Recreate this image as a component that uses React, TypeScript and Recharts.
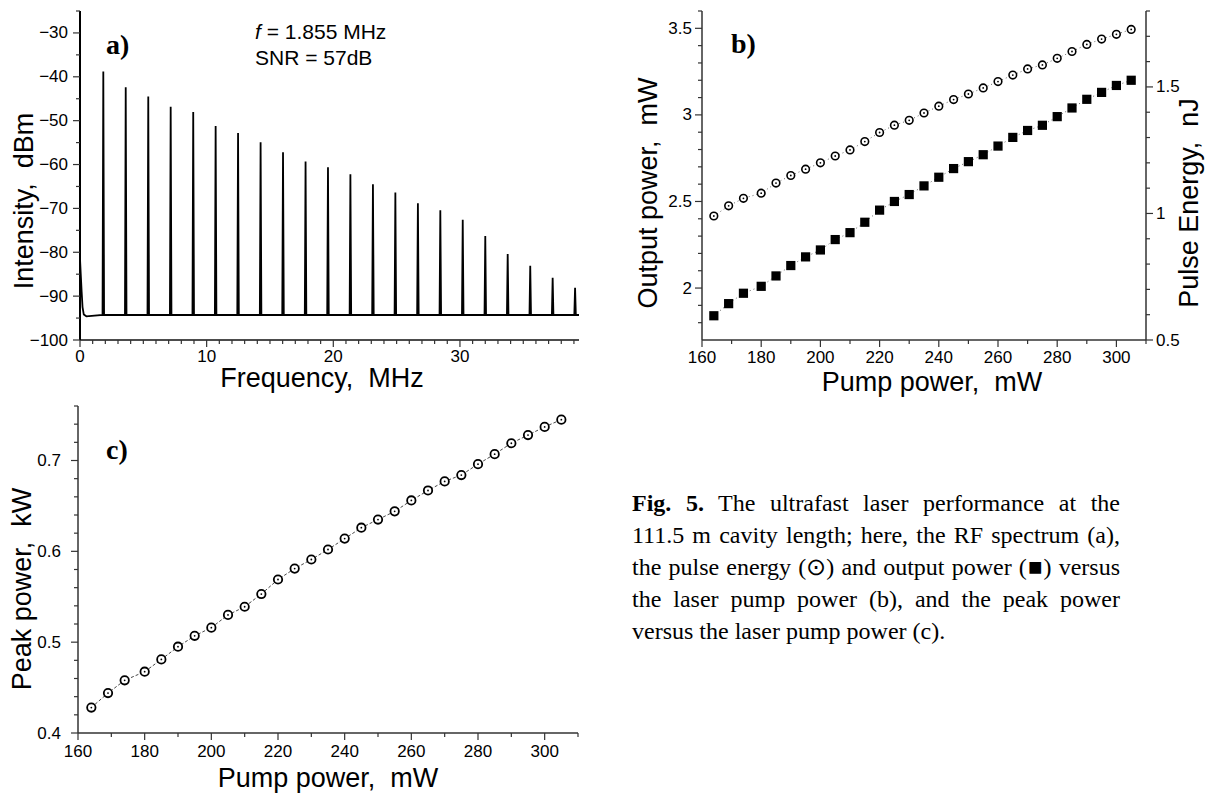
import React from "react";
import { LineChart, Line, XAxis, YAxis } from "recharts";

// a) RF spectrum: harmonic peaks
const peakFreq = [1.84, 3.61, 5.39, 7.16, 8.94, 10.71, 12.48, 14.26, 16.03, 17.81, 19.58, 21.35, 23.13, 24.9, 26.68, 28.45, 30.22, 32.0, 33.77, 35.55, 37.32, 39.09];
const peakLevel = [-38.8, -42.4, -44.5, -46.8, -48.0, -51.2, -52.8, -54.9, -57.2, -59.3, -60.6, -62.2, -64.5, -66.4, -68.8, -70.4, -72.6, -76.3, -80.4, -83.1, -85.8, -88.1];
const noiseFloor = -94.3;
const dcFreq = [0, 0.06, 0.13, 0.2, 0.3, 0.5];
const dcLevel = [-81.5, -85, -89, -92.5, -94.2, -94.6];
const freqTickLabels = [0, 10, 20, 30];
const dbmTickLabels = [-100, -90, -80, -70, -60, -50, -40, -30];

// b) and c) versus pump power
const pump = [164, 169, 174, 180, 185, 190, 195, 200, 205, 210, 215, 220, 225, 230, 235, 240, 245, 250, 255, 260, 265, 270, 275, 280, 285, 290, 295, 300, 305];
const outputPower = [1.84, 1.91, 1.97, 2.01, 2.07, 2.13, 2.18, 2.22, 2.28, 2.32, 2.38, 2.45, 2.5, 2.54, 2.59, 2.64, 2.69, 2.73, 2.77, 2.82, 2.87, 2.91, 2.94, 2.99, 3.04, 3.09, 3.13, 3.17, 3.2];
const pulseEnergy = [0.99, 1.03, 1.06, 1.08, 1.12, 1.15, 1.175, 1.2, 1.227, 1.251, 1.284, 1.32, 1.349, 1.368, 1.397, 1.424, 1.45, 1.472, 1.496, 1.521, 1.547, 1.571, 1.587, 1.613, 1.64, 1.668, 1.689, 1.708, 1.727];
const peakPower = [0.428, 0.444, 0.458, 0.4675, 0.481, 0.495, 0.507, 0.516, 0.53, 0.539, 0.553, 0.569, 0.581, 0.591, 0.602, 0.614, 0.626, 0.635, 0.644, 0.656, 0.667, 0.677, 0.684, 0.696, 0.707, 0.719, 0.728, 0.737, 0.745];
const pumpTickLabels = [160, 180, 200, 220, 240, 260, 280, 300];
const outputTickLabels = [2, 2.5, 3, 3.5];
const energyTickLabels = [0.5, 1, 1.5];
const peakTickLabels = [0.4, 0.5, 0.6, 0.7];

// line table for the spectrum: floor -> peak -> floor around each harmonic
const spectrum = [
  ...dcFreq.map((f, i) => ({ f, dBm: dcLevel[i] })),
  ...peakFreq.flatMap((f, i) => [
    { f: f - 0.06, dBm: noiseFloor },
    { f, dBm: peakLevel[i] },
    { f: f + 0.06, dBm: noiseFloor },
  ]),
  { f: 39.4, dBm: noiseFloor },
];
const pumpData = pump.map((p, i) => ({ p, out: outputPower[i], energy: pulseEnergy[i], peak: peakPower[i] }));

// minor tick positions
const steps = (lo: number, hi: number, step: number) => {
  const out: number[] = [];
  for (let i = 0; lo + i * step <= hi + step / 1000; i++) out.push(Math.round((lo + i * step) * 1000) / 1000);
  return out;
};

const SANS = "'Liberation Sans', Arial, sans-serif";
const SERIF = "'Liberation Serif', 'Times New Roman', serif";
const AXIS = "#333";
const FRAME = "#555";
const minus = (v: number) => (v < 0 ? "\u2212" + Math.abs(v) : String(v));

function makeTick(side: "left" | "right" | "bottom", majors: number[], gap: number, fmt: (v: number) => string = String) {
  return (props: any) => {
    const { x, y, payload, index } = props;
    const v = payload.value;
    const major = majors.some((m) => Math.abs(m - v) < 1e-6);
    const len = major ? 7 : 4;
    const ts = { fontFamily: SANS, fontSize: 17, fill: "#000" };
    if (side === "bottom") {
      return (
        <g key={`t${index}`}>
          <line x1={x} y1={y} x2={x} y2={y + len} stroke={AXIS} strokeWidth={1.2} />
          {major && (
            <text x={x} y={y + gap} textAnchor="middle" dominantBaseline="central" style={ts}>
              {fmt(v)}
            </text>
          )}
        </g>
      );
    }
    const dir = side === "left" ? -1 : 1;
    return (
      <g key={`t${index}`}>
        <line x1={x} y1={y} x2={x + dir * len} y2={y} stroke={AXIS} strokeWidth={1.2} />
        {major && (
          <text x={x + dir * gap} y={y} textAnchor={side === "left" ? "end" : "start"} dominantBaseline="central" style={ts}>
            {fmt(v)}
          </text>
        )}
      </g>
    );
  };
}

// axis titles: x, y are the baseline point (rotated titles read bottom to top)
const title = (text: string, x: number, y: number, rotate: boolean) => () => (
  <text
    x={x}
    y={y}
    transform={rotate ? `rotate(-90 ${x} ${y})` : undefined}
    textAnchor="middle"
    style={{ fontFamily: SANS, fontSize: 27, fill: "#000", whiteSpace: "pre" }}
  >
    {text}
  </text>
);

const ringDot = (r: number, sw: number) => (props: any) => {
  const { cx, cy, index } = props;
  if (cx == null || cy == null) return <g key={`r${index}`} />;
  return (
    <g key={`r${index}`}>
      <circle cx={cx} cy={cy} r={r} fill="#fff" stroke="#000" strokeWidth={sw} />
      <circle cx={cx} cy={cy} r={0.9} fill="#000" />
    </g>
  );
};

const squareDot = (props: any) => {
  const { cx, cy, index } = props;
  if (cx == null || cy == null) return <g key={`s${index}`} />;
  return <rect key={`s${index}`} x={cx - 4.6} y={cy - 4.6} width={9.2} height={9.2} fill="#000" />;
};

const overlay = (left: number, top: number, style: React.CSSProperties, children: React.ReactNode) => (
  <div style={{ position: "absolute", left, top, whiteSpace: "pre", ...style }}>{children}</div>
);

const panelLabel = { fontFamily: SERIF, fontWeight: 700, fontSize: 28, lineHeight: "28px" };
const captionLine: React.CSSProperties = { textAlign: "justify", textAlignLast: "justify", whiteSpace: "normal" };

export default function App() {
  return (
    <div style={{ position: "absolute", left: 0, top: 0, width: 1206, height: 793, background: "#fff", overflow: "hidden" }}>
      {/* a) RF spectrum */}
      <div style={{ position: "absolute", left: 0, top: 0 }}>
        <LineChart width={600} height={398} data={spectrum} margin={{ top: 11, right: 21, bottom: 0, left: 0 }}>
          <XAxis
            dataKey="f"
            type="number"
            domain={[0, 39.4]}
            allowDataOverflow
            ticks={steps(0, 39, 1)}
            interval={0}
            height={58}
            tickSize={0}
            tickMargin={0}
            tickLine={false}
            axisLine={{ stroke: "#111", strokeWidth: 1.5 }}
            tick={makeTick("bottom", freqTickLabels, 16)}
            label={title("Frequency,  MHz", 322, 387, false)}
          />
          <XAxis xAxisId="top" orientation="top" type="number" domain={[0, 39.4]} height={0} tick={false} tickLine={false} axisLine={{ stroke: FRAME, strokeWidth: 1.2 }} />
          <YAxis
            type="number"
            domain={[-100, -25]}
            allowDataOverflow
            ticks={steps(-100, -25, 5)}
            interval={0}
            width={80}
            tickSize={0}
            tickMargin={0}
            tickLine={false}
            axisLine={{ stroke: "#000", strokeWidth: 2 }}
            tick={makeTick("left", dbmTickLabels, 12, minus)}
            label={title("Intensity,  dBm", 33, 201, true)}
          />
          <YAxis yAxisId="frame" orientation="right" type="number" domain={[-100, -25]} width={0} tick={false} tickLine={false} axisLine={{ stroke: FRAME, strokeWidth: 1.2 }} />
          <Line type="linear" dataKey="dBm" stroke="#000" strokeWidth={1.8} dot={false} isAnimationActive={false} />
        </LineChart>
      </div>

      {/* b) output power and pulse energy */}
      <div style={{ position: "absolute", left: 600, top: 0 }}>
        <LineChart width={606} height={400} data={pumpData} margin={{ top: 11, right: 0, bottom: 0, left: 0 }}>
          <XAxis
            dataKey="p"
            type="number"
            domain={[160, 310]}
            ticks={steps(160, 310, 10)}
            interval={0}
            height={60}
            tickSize={0}
            tickMargin={0}
            tickLine={false}
            axisLine={{ stroke: AXIS, strokeWidth: 1.5 }}
            tick={makeTick("bottom", pumpTickLabels, 17)}
            label={title("Pump power,  mW", 332, 391, false)}
          />
          <XAxis xAxisId="top" orientation="top" type="number" domain={[160, 310]} height={0} tick={false} tickLine={false} axisLine={{ stroke: FRAME, strokeWidth: 1.2 }} />
          <YAxis
            yAxisId="out"
            type="number"
            domain={[1.7, 3.6]}
            ticks={steps(1.8, 3.6, 0.1)}
            interval={0}
            width={102}
            tickSize={0}
            tickMargin={0}
            tickLine={false}
            axisLine={{ stroke: AXIS, strokeWidth: 1.5 }}
            tick={makeTick("left", outputTickLabels, 10)}
            label={title("Output power,  mW", 57, 193, true)}
          />
          <YAxis
            yAxisId="energy"
            orientation="right"
            type="number"
            domain={[0.5, 1.8]}
            ticks={steps(0.5, 1.8, 0.1)}
            interval={0}
            width={60}
            tickSize={0}
            tickMargin={0}
            tickLine={false}
            axisLine={{ stroke: AXIS, strokeWidth: 1.5 }}
            tick={makeTick("right", energyTickLabels, 10)}
            label={title("Pulse Energy,  nJ", 598, 203, true)}
          />
          <Line yAxisId="out" type="linear" dataKey="out" stroke="#555" strokeWidth={0.9} strokeDasharray="1 3" dot={squareDot} isAnimationActive={false} />
          <Line yAxisId="energy" type="linear" dataKey="energy" stroke="#555" strokeWidth={0.9} strokeDasharray="1 3" dot={ringDot(3.8, 1.6)} isAnimationActive={false} />
        </LineChart>
      </div>

      {/* c) peak power */}
      <div style={{ position: "absolute", left: 0, top: 395 }}>
        <LineChart width={600} height={398} data={pumpData} margin={{ top: 11, right: 22, bottom: 0, left: 0 }}>
          <XAxis
            dataKey="p"
            type="number"
            domain={[160, 310]}
            ticks={steps(160, 310, 10)}
            interval={0}
            height={60}
            tickSize={0}
            tickMargin={0}
            tickLine={false}
            axisLine={{ stroke: AXIS, strokeWidth: 1.5 }}
            tick={makeTick("bottom", pumpTickLabels, 18)}
            label={title("Pump power,  mW", 328, 392, false)}
          />
          <XAxis xAxisId="top" orientation="top" type="number" domain={[160, 310]} height={0} tick={false} tickLine={false} axisLine={{ stroke: FRAME, strokeWidth: 1.2 }} />
          <YAxis
            type="number"
            domain={[0.4, 0.76]}
            ticks={steps(0.4, 0.76, 0.02)}
            interval={0}
            width={78}
            tickSize={0}
            tickMargin={0}
            tickLine={false}
            axisLine={{ stroke: AXIS, strokeWidth: 1.5 }}
            tick={makeTick("left", peakTickLabels, 17)}
            label={title("Peak power,  kW", 31, 194, true)}
          />
          <YAxis yAxisId="frame" orientation="right" type="number" domain={[0.4, 0.76]} width={0} tick={false} tickLine={false} axisLine={{ stroke: FRAME, strokeWidth: 1.2 }} />
          <Line type="linear" dataKey="peak" stroke="#333" strokeWidth={0.9} strokeDasharray="3 2" dot={ringDot(4.2, 1.8)} isAnimationActive={false} />
        </LineChart>
      </div>

      {/* panel letters and notes */}
      {overlay(106, 31, panelLabel, "a)")}
      {overlay(731, 30, panelLabel, "b)")}
      {overlay(106, 436, panelLabel, "c)")}
      {overlay(255, 19, { fontFamily: SANS, fontSize: 21, lineHeight: "26px" }, (
        <>
          <i>f</i>
          {" = 1.855 MHz\nSNR = 57dB"}
        </>
      ))}

      {/* caption */}
      <div style={{ position: "absolute", left: 632, top: 487, width: 488, fontFamily: SERIF, fontSize: 24, lineHeight: "32px", color: "#000" }}>
        <div style={captionLine}>
          <b>Fig. 5.</b> The ultrafast laser performance at the
        </div>
        <div style={captionLine}>111.5 m cavity length; here, the RF spectrum (a),</div>
        <div style={captionLine}>the pulse energy ({"\u2299"}) and output power ({"\u25A0"}) versus</div>
        <div style={captionLine}>the laser pump power (b), and the peak power</div>
        <div style={{ whiteSpace: "normal" }}>versus the laser pump power (c).</div>
      </div>
    </div>
  );
}
